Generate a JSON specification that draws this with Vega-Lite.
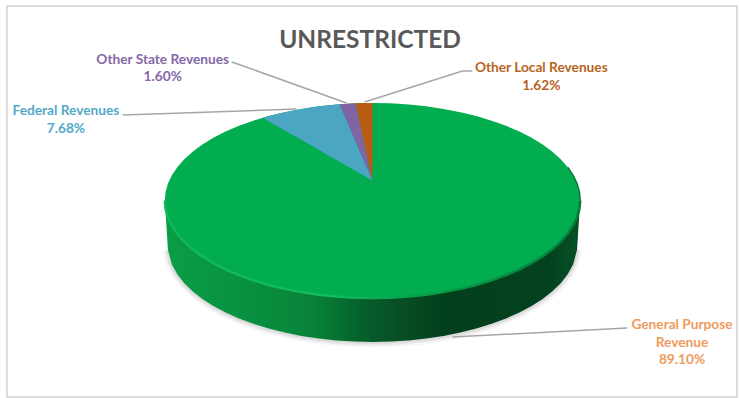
{
  "$schema": "https://vega.github.io/schema/vega-lite/v6.json",
  "autosize": {"type": "fit", "contains": "padding"},
  "width": 739,
  "height": 398,
  "padding": 0,
  "background": "#ffffff",
  "title": {"text": "UNRESTRICTED", "font": "Lato", "fontSize": 24.5, "fontWeight": "bold", "color": "#595959", "anchor": "middle", "frame": "group", "baseline": "alphabetic", "offset": -47, "dy": 25, "dx": 1},
  "config": {"view": {"stroke": null}, "axis": {"disable": true}},
  "datasets": {
    "frame": [{"left": -1.76, "right": 1.755, "top": 1.995, "bottom": -2.015}],
    "disc": [
      {"x": -1, "upper": 0, "lower": 0, "base": 0},
      {"x": -0.9962, "upper": 0.0872, "lower": -0.0872, "base": -0.124},
      {"x": -0.9848, "upper": 0.1736, "lower": -0.1736, "base": -0.505},
      {"x": -0.9659, "upper": 0.2588, "lower": -0.2588, "base": -0.656},
      {"x": -0.9397, "upper": 0.342, "lower": -0.342, "base": -0.757},
      {"x": -0.9063, "upper": 0.4226, "lower": -0.4226, "base": -0.848},
      {"x": -0.866, "upper": 0.5, "lower": -0.5, "base": -0.932},
      {"x": -0.8192, "upper": 0.5736, "lower": -0.5736, "base": -1.01},
      {"x": -0.766, "upper": 0.6428, "lower": -0.6428, "base": -1.083},
      {"x": -0.7071, "upper": 0.7071, "lower": -0.7071, "base": -1.149},
      {"x": -0.6428, "upper": 0.766, "lower": -0.766, "base": -1.21},
      {"x": -0.5736, "upper": 0.8192, "lower": -0.8192, "base": -1.265},
      {"x": -0.5, "upper": 0.866, "lower": -0.866, "base": -1.314},
      {"x": -0.4226, "upper": 0.9063, "lower": -0.9063, "base": -1.355},
      {"x": -0.342, "upper": 0.9397, "lower": -0.9397, "base": -1.389},
      {"x": -0.2588, "upper": 0.9659, "lower": -0.9659, "base": -1.416},
      {"x": -0.1736, "upper": 0.9848, "lower": -0.9848, "base": -1.435},
      {"x": -0.0872, "upper": 0.9962, "lower": -0.9962, "base": -1.447},
      {"x": 0, "upper": 1, "lower": -1, "base": -1.451},
      {"x": 0.0872, "upper": 0.9962, "lower": -0.9962, "base": -1.447},
      {"x": 0.1736, "upper": 0.9848, "lower": -0.9848, "base": -1.435},
      {"x": 0.2588, "upper": 0.9659, "lower": -0.9659, "base": -1.416},
      {"x": 0.342, "upper": 0.9397, "lower": -0.9397, "base": -1.389},
      {"x": 0.4226, "upper": 0.9063, "lower": -0.9063, "base": -1.355},
      {"x": 0.5, "upper": 0.866, "lower": -0.866, "base": -1.314},
      {"x": 0.5736, "upper": 0.8192, "lower": -0.8192, "base": -1.265},
      {"x": 0.6428, "upper": 0.766, "lower": -0.766, "base": -1.21},
      {"x": 0.7071, "upper": 0.7071, "lower": -0.7071, "base": -1.149},
      {"x": 0.766, "upper": 0.6428, "lower": -0.6428, "base": -1.083},
      {"x": 0.8192, "upper": 0.5736, "lower": -0.5736, "base": -1.01},
      {"x": 0.866, "upper": 0.5, "lower": -0.5, "base": -0.932},
      {"x": 0.9063, "upper": 0.4226, "lower": -0.4226, "base": -0.848},
      {"x": 0.9397, "upper": 0.342, "lower": -0.342, "base": -0.757},
      {"x": 0.9659, "upper": 0.2588, "lower": -0.2588, "base": -0.656},
      {"x": 0.9848, "upper": 0.1736, "lower": -0.1736, "base": -0.505},
      {"x": 0.9962, "upper": 0.0872, "lower": -0.0872, "base": -0.124},
      {"x": 1, "upper": 0, "lower": 0, "base": 0}
    ],
    "edge": [
      {"x": 0.9397, "y": 0.342},
      {"x": 0.9659, "y": 0.2588},
      {"x": 0.9848, "y": 0.1736},
      {"x": 0.9962, "y": 0.0872},
      {"x": 1, "y": 0}
    ],
    "wedges": [
      {"source": "Federal Revenues", "x": -0.529, "y": 0.8486, "inner": 0.8486},
      {"source": "Federal Revenues", "x": -0.45, "y": 0.893, "inner": 0.7525},
      {"source": "Federal Revenues", "x": -0.37, "y": 0.929, "inner": 0.6552},
      {"source": "Federal Revenues", "x": -0.29, "y": 0.957, "inner": 0.5578},
      {"source": "Federal Revenues", "x": -0.22, "y": 0.9755, "inner": 0.4727},
      {"source": "Federal Revenues", "x": -0.1587, "y": 0.9873, "inner": 0.3981},
      {"source": "Federal Revenues", "x": 0, "y": 0.205, "inner": 0.205},
      {"source": "Other State Revenues", "x": -0.1587, "y": 0.9873, "inner": 0.9873},
      {"source": "Other State Revenues", "x": -0.12, "y": 0.9928, "inner": 0.7966},
      {"source": "Other State Revenues", "x": -0.0817, "y": 0.9967, "inner": 0.6078},
      {"source": "Other State Revenues", "x": 0, "y": 0.205, "inner": 0.205},
      {"source": "Other Local Revenues", "x": -0.0817, "y": 0.9967, "inner": 0.9967},
      {"source": "Other Local Revenues", "x": -0.04, "y": 0.9992, "inner": 0.5926},
      {"source": "Other Local Revenues", "x": 0, "y": 1, "inner": 0.205}
    ],
    "leaders": [
      {"source": "Federal Revenues", "x": -1.202, "y": 0.877},
      {"source": "Federal Revenues", "x": -0.365, "y": 0.938},
      {"source": "Other State Revenues", "x": -0.678, "y": 1.421},
      {"source": "Other State Revenues", "x": -0.649, "y": 1.4},
      {"source": "Other State Revenues", "x": -0.125, "y": 1.0},
      {"source": "Other Local Revenues", "x": -0.038, "y": 1.01},
      {"source": "Other Local Revenues", "x": 0.433, "y": 1.328},
      {"source": "Other Local Revenues", "x": 0.481, "y": 1.328},
      {"source": "General Purpose Revenue", "x": 0.385, "y": -1.4},
      {"source": "General Purpose Revenue", "x": 1.226, "y": -1.308}
    ],
    "slices": [
      {"source": "General Purpose Revenue", "name": "General Purpose\nRevenue", "share": 0.891, "x": 1.49, "y": -1.313, "shareY": -1.682},
      {"source": "Federal Revenues", "name": "Federal Revenues", "share": 0.0768, "x": -1.476, "y": 0.872, "shareY": 0.697},
      {"source": "Other State Revenues", "name": "Other State Revenues", "share": 0.016, "x": -1.01, "y": 1.405, "shareY": 1.221},
      {"source": "Other Local Revenues", "name": "Other Local Revenues", "share": 0.0162, "x": 0.8125, "y": 1.313, "shareY": 1.138}
    ]
  },
  "encoding": {
    "x": {"field": "x", "type": "quantitative", "scale": {"domain": [-1.7933, 1.7596], "nice": false, "zero": false}},
    "y": {"field": "y", "type": "quantitative", "scale": {"domain": [-2.0256, 2.0564], "nice": false, "zero": false}}
  },
  "layer": [
    {
      "data": {"name": "frame"},
      "mark": {"type": "rect", "fill": null, "stroke": "#dcdcdc", "strokeWidth": 2},
      "encoding": {
        "x": {"field": "left", "type": "quantitative"},
        "x2": {"field": "right"},
        "y": {"field": "top", "type": "quantitative"},
        "y2": {"field": "bottom"}
      }
    },
    {
      "data": {"name": "disc"},
      "transform": [{"filter": "datum.base < -0.4"}],
      "mark": {"type": "line", "stroke": "#000000", "strokeWidth": 11, "opacity": 0.035},
      "encoding": {"y": {"field": "base", "type": "quantitative"}}
    },
    {
      "data": {"name": "disc"},
      "transform": [{"filter": "datum.base < -0.4"}],
      "mark": {"type": "line", "stroke": "#000000", "strokeWidth": 7, "opacity": 0.05},
      "encoding": {"y": {"field": "base", "type": "quantitative"}}
    },
    {
      "data": {"name": "disc"},
      "transform": [{"filter": "datum.base < -0.4"}],
      "mark": {"type": "line", "stroke": "#000000", "strokeWidth": 4, "opacity": 0.06},
      "encoding": {"y": {"field": "base", "type": "quantitative"}}
    },
    {
      "data": {"name": "disc"},
      "mark": {
        "type": "area",
        "color": {
          "gradient": "linear", "x1": 0, "y1": 0, "x2": 1, "y2": 0,
          "stops": [
            {"offset": 0, "color": "#0a9e46"},
            {"offset": 0.2, "color": "#089040"},
            {"offset": 0.36, "color": "#088238"},
            {"offset": 0.47, "color": "#05612c"},
            {"offset": 0.56, "color": "#064f25"},
            {"offset": 0.68, "color": "#033f1c"},
            {"offset": 0.92, "color": "#04411e"},
            {"offset": 1, "color": "#045226"}
          ]
        }
      },
      "encoding": {
        "y": {"field": "lower", "type": "quantitative"},
        "y2": {"field": "base"}
      }
    },
    {
      "data": {"name": "disc"},
      "mark": {"type": "area", "color": "#02ad50"},
      "encoding": {
        "y": {"field": "upper", "type": "quantitative"},
        "y2": {"field": "lower"}
      }
    },
    {
      "data": {"name": "disc"},
      "mark": {
        "type": "line",
        "strokeWidth": 2.5,
        "stroke": {
          "gradient": "linear", "x1": 0, "y1": 0, "x2": 1, "y2": 0,
          "stops": [
            {"offset": 0, "color": "#12b85a"},
            {"offset": 0.4, "color": "#10bd5c"},
            {"offset": 0.6, "color": "#07a04a"},
            {"offset": 0.85, "color": "#058a3e"},
            {"offset": 1, "color": "#067a36"}
          ]
        }
      },
      "encoding": {"y": {"field": "lower", "type": "quantitative"}}
    },
    {
      "data": {"name": "edge"},
      "mark": {"type": "line", "stroke": "#067a36", "strokeWidth": 1.5}
    },
    {
      "data": {"name": "wedges"},
      "mark": {"type": "area"},
      "encoding": {
        "y": {"field": "y", "type": "quantitative", "stack": null},
        "y2": {"field": "inner"},
        "color": {
          "field": "source",
          "type": "nominal",
          "legend": null,
          "scale": {
            "domain": ["Federal Revenues", "Other State Revenues", "Other Local Revenues"],
            "range": ["#4ba6c3", "#8064a6", "#b85d12"]
          }
        }
      }
    },
    {
      "data": {"name": "leaders"},
      "mark": {"type": "line", "stroke": "#a6a6a6", "strokeWidth": 1.5},
      "encoding": {"detail": {"field": "source"}}
    },
    {
      "data": {"name": "slices"},
      "mark": {"type": "text", "font": "Lato", "fontSize": 13.7, "fontWeight": "bold", "align": "center", "baseline": "alphabetic", "lineBreak": "\n", "lineHeight": 18},
      "encoding": {
        "text": {"field": "name"},
        "color": {
          "field": "source",
          "type": "nominal",
          "legend": null,
          "scale": {
            "domain": ["General Purpose Revenue", "Federal Revenues", "Other State Revenues", "Other Local Revenues"],
            "range": ["#ee9b5c", "#53aac6", "#8468a8", "#b8631c"]
          }
        }
      }
    },
    {
      "data": {"name": "slices"},
      "mark": {"type": "text", "font": "Lato", "fontSize": 13.7, "fontWeight": "bold", "align": "center", "baseline": "alphabetic"},
      "encoding": {
        "y": {"field": "shareY", "type": "quantitative"},
        "text": {"field": "share", "type": "quantitative", "format": ".2%"},
        "color": {
          "field": "source",
          "type": "nominal",
          "legend": null,
          "scale": {
            "domain": ["General Purpose Revenue", "Federal Revenues", "Other State Revenues", "Other Local Revenues"],
            "range": ["#ee9b5c", "#53aac6", "#8468a8", "#b8631c"]
          }
        }
      }
    }
  ],
  "resolve": {"scale": {"color": "independent"}}
}
